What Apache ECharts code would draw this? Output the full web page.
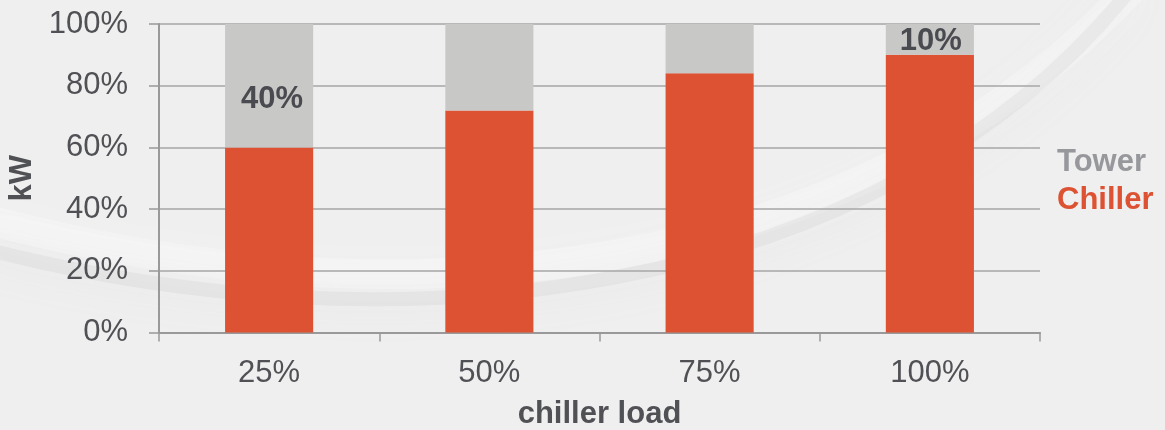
<!DOCTYPE html>
<html>
<head>
<meta charset="utf-8">
<script src="https://cdn.jsdelivr.net/npm/echarts@6/dist/echarts.min.js"></script>
<style>
  html, body { margin: 0; padding: 0; background: #efefef; }
  #chart { width: 1165px; height: 430px; }
</style>
</head>
<body>
<div id="chart"></div>
<script>
// Share of total plant power at each chiller load step
const loadSteps = ['25%', '50%', '75%', '100%'];
const chillerShare = [60, 72, 84, 90];
const towerShare = [40, 28, 16, 10];
const towerLabels = ['40%', '', '', '10%'];
const yTicks = [0, 20, 40, 60, 80, 100];

const CHILLER = '#dc5233';
const TOWER = '#c8c8c6';
const TEXT = '#505155';
const FONT = 'Liberation Sans, Arial, sans-serif';

const chart = echarts.init(document.getElementById('chart'));

chart.setOption({
  backgroundColor: '#efefef',
  animation: false,
  graphic: [
    // soft swoosh in the backdrop
    {
      type: 'bezierCurve',
      z: -10,
      silent: true,
      shape: { x1: -30, y1: 215, cpx1: 380, cpy1: 330, cpx2: 860, cpy2: 290, x2: 1140, y2: -20 },
      style: { stroke: 'rgba(252,252,252,0.35)', lineWidth: 30, fill: null, shadowBlur: 40, shadowColor: 'rgba(255,255,255,0.7)' }
    },
    {
      type: 'bezierCurve',
      z: -10,
      silent: true,
      shape: { x1: -30, y1: 245, cpx1: 400, cpy1: 360, cpx2: 880, cpy2: 300, x2: 1130, y2: -10 },
      style: { stroke: 'rgba(200,200,200,0.22)', lineWidth: 14, fill: null, shadowBlur: 40, shadowColor: 'rgba(175,175,175,0.55)' }
    }
  ],
  legend: {
    orient: 'vertical',
    left: 1047,
    top: 142,
    itemWidth: 0,
    itemHeight: 0,
    itemGap: 7,
    icon: 'rect',
    selectedMode: false,
    textStyle: { fontSize: 31, fontWeight: 'bold', fontFamily: FONT },
    data: [
      { name: 'Tower', textStyle: { color: '#97989c' } },
      { name: 'Chiller', textStyle: { color: CHILLER } }
    ]
  },
  grid: { left: 159, right: 125, top: 24, bottom: 97.5, containLabel: false, outerBoundsMode: 'none' },
  xAxis: {
    type: 'category',
    data: loadSteps,
    name: 'chiller load',
    nameLocation: 'middle',
    nameGap: 66,
    nameTextStyle: { fontSize: 31, fontWeight: 'bold', color: TEXT, fontFamily: FONT },
    axisLine: { lineStyle: { color: '#999999', width: 2 } },
    axisTick: { show: true, length: 9, lineStyle: { color: '#999999', width: 1.5 } },
    axisLabel: { fontSize: 31, color: TEXT, margin: 25, fontFamily: FONT }
  },
  yAxis: {
    type: 'value',
    min: yTicks[0],
    max: yTicks[yTicks.length - 1],
    interval: yTicks[1] - yTicks[0],
    name: 'kW',
    nameLocation: 'middle',
    nameGap: 119,
    nameRotate: 90,
    nameTextStyle: { fontSize: 31, fontWeight: 'bold', color: TEXT, fontFamily: FONT },
    axisLine: { show: true, lineStyle: { color: '#999999', width: 2 } },
    axisTick: { show: true, length: 10, lineStyle: { color: '#999999', width: 1.5 } },
    splitLine: { show: true, lineStyle: { color: '#a6a6a6', width: 1.5 } },
    axisLabel: { fontSize: 31, color: TEXT, margin: 31, fontFamily: FONT, formatter: '{value}%' }
  },
  series: [
    {
      name: 'Chiller',
      type: 'bar',
      stack: 'power',
      barWidth: '40%',
      itemStyle: { color: CHILLER },
      data: chillerShare
    },
    {
      name: 'Tower',
      type: 'bar',
      stack: 'power',
      barWidth: '40%',
      itemStyle: { color: TOWER },
      data: towerShare.map((v, i) => ({
        value: v,
        label: {
          show: towerLabels[i] !== '',
          position: 'inside',
          offset: i === 0 ? [3, 14] : [1, 2],
          formatter: () => towerLabels[i],
          fontSize: 31,
          fontWeight: 'bold',
          color: '#4a4b50',
          fontFamily: FONT
        }
      }))
    }
  ]
});
</script>
</body>
</html>
